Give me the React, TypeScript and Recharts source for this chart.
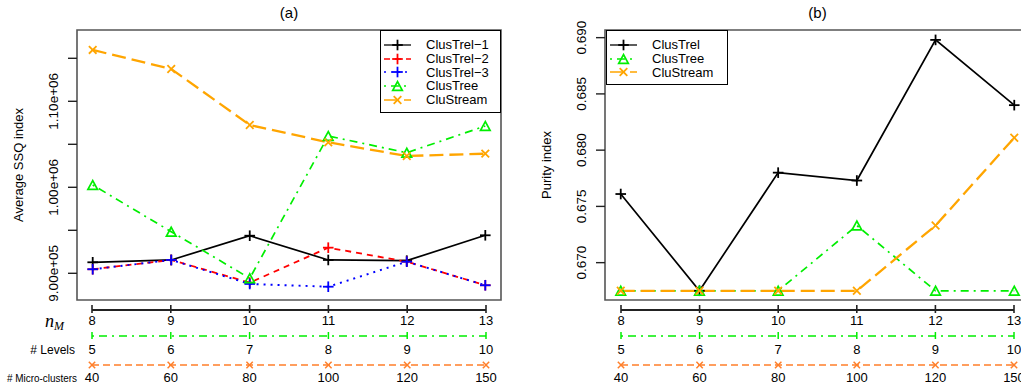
import React from 'react';
import { LineChart, Line, XAxis, YAxis, Legend, ReferenceArea } from 'recharts';

const FONT = "'Liberation Sans', Arial, Helvetica, sans-serif";

// ---- categories & tick labels ----
const nM = [8, 9, 10, 11, 12, 13];
const levels = ['5', '6', '7', '8', '9', '10'];
const microClusters = ['40', '60', '80', '100', '120', '150'];

const ssqTicks = [900000, 950000, 1000000, 1050000, 1100000, 1150000];
const ssqTickLabels = ['9.00e+05', '', '1.00e+06', '', '1.10e+06', ''];
const purityTicks = [0.67, 0.675, 0.68, 0.685, 0.69];
const purityTickLabels = ['0.670', '0.675', '0.680', '0.685', '0.690'];

// ---- (a) Average SSQ index ----
const ssqClusTrel1 = [912800, 915500, 943700, 915500, 914700, 944200];
const ssqClusTrel2 = [904700, 915500, 889100, 929800, 913500, 886100];
const ssqClusTrel3 = [904700, 915500, 887600, 884400, 913500, 886100];
const ssqClusTree = [1002700, 948400, 894200, 1059700, 1040200, 1071300];
const ssqCluStream = [1159700, 1137600, 1072400, 1052300, 1036400, 1039100];

// ---- (b) Purity index ----
const purityClusTrel = [0.6761, 0.6675, 0.678, 0.6773, 0.6898, 0.684];
const purityClusTree = [0.6675, 0.6675, 0.6675, 0.6733, 0.6675, 0.6675];
const purityCluStream = [0.6675, 0.6675, 0.6675, 0.6675, 0.6733, 0.6811];

// axis ranges (R adds 4% padding)
const xDomain = [7.8, 13.2];
const ssqDomain = [868950, 1182910];
const purityDomain = [0.66668, 0.69068];

const ssqRows = nM.map((n, i) => ({
  n,
  c1: ssqClusTrel1[i],
  c2: ssqClusTrel2[i],
  c3: ssqClusTrel3[i],
  tree: ssqClusTree[i],
  stream: ssqCluStream[i],
}));
const purityRows = nM.map((n, i) => ({
  n,
  trel: purityClusTrel[i],
  tree: purityClusTree[i],
  stream: purityCluStream[i],
}));

type Series = { key: string; name: string; color: string; dash?: string; width: number; marker: string };

const ssqSeries: Series[] = [
  { key: 'c1', name: 'ClusTrel\u22121', color: '#000000', width: 1.7, marker: 'plus' },
  { key: 'c2', name: 'ClusTrel\u22122', color: '#FF0000', dash: '6 5', width: 1.8, marker: 'plus' },
  { key: 'c3', name: 'ClusTrel\u22123', color: '#0000FF', dash: '2 5', width: 1.9, marker: 'plus' },
  { key: 'tree', name: 'ClusTree', color: '#00EE00', dash: '2 5 8 5', width: 1.7, marker: 'triangle' },
  { key: 'stream', name: 'CluStream', color: '#FFA500', dash: '14 6', width: 2.3, marker: 'cross' },
];
const puritySeries: Series[] = [
  { key: 'trel', name: 'ClusTrel', color: '#000000', width: 1.7, marker: 'plus' },
  { key: 'tree', name: 'ClusTree', color: '#00EE00', dash: '2 5 8 5', width: 1.7, marker: 'triangle' },
  { key: 'stream', name: 'CluStream', color: '#FFA500', dash: '14 6', width: 2.3, marker: 'cross' },
];

function Marker({ cx, cy, type, color }: any) {
  if (cx == null || cy == null) return null;
  if (type === 'plus') {
    const r = 5.3;
    return (
      <g>
        <line x1={cx - r} y1={cy} x2={cx + r} y2={cy} stroke={color} strokeWidth={1.8} />
        <line x1={cx} y1={cy - r} x2={cx} y2={cy + r} stroke={color} strokeWidth={1.8} />
      </g>
    );
  }
  if (type === 'cross') {
    const r = 3.8;
    return (
      <g>
        <line x1={cx - r} y1={cy - r} x2={cx + r} y2={cy + r} stroke={color} strokeWidth={1.8} />
        <line x1={cx - r} y1={cy + r} x2={cx + r} y2={cy - r} stroke={color} strokeWidth={1.8} />
      </g>
    );
  }
  const h = 4.4;
  const w = 4.8;
  return (
    <polygon
      points={`${cx},${cy - h} ${cx - w},${cy + h} ${cx + w},${cy + h}`}
      fill="none"
      stroke={color}
      strokeWidth={1.7}
    />
  );
}

function LegendBox({ items }: { items: Series[] }) {
  return (
    <div
      style={{
        border: '1px solid #000',
        background: '#fff',
        padding: '7px 0 5px 2px',
        fontFamily: FONT,
        fontSize: 13,
        color: '#000',
        boxSizing: 'border-box',
      }}
    >
      {items.map((s) => (
        <div key={s.key} style={{ display: 'flex', alignItems: 'center', height: 13.75, whiteSpace: 'nowrap' }}>
          <svg width={29} height={14} style={{ flex: 'none', overflow: 'visible' }}>
            <line x1={1} y1={7} x2={28} y2={7} stroke={s.color} strokeWidth={s.width * 0.75} strokeDasharray={s.dash} />
            <Marker cx={14.5} cy={7} type={s.marker} color={s.color} />
          </svg>
          <span style={{ marginLeft: 14, lineHeight: '13.75px' }}>{s.name}</span>
        </div>
      ))}
    </div>
  );
}

const makeYTick = (labels: string[]) => (props: any) => {
  const { x, y, index } = props;
  const lab = labels[index] ?? '';
  if (!lab) return <g />;
  const bx = x - 10;
  return (
    <text
      x={bx}
      y={y}
      transform={`rotate(-90 ${bx} ${y})`}
      textAnchor="middle"
      fontSize={13.5}
      fontFamily={FONT}
      fill="#000"
    >
      {lab}
    </text>
  );
};

const yLabel = (text: string, dx: number) => (props: any) => {
  const vb = props.viewBox || {};
  const x = (vb.x ?? 0) + dx;
  const y = (vb.y ?? 0) + (vb.height ?? 0) / 2;
  return (
    <text x={x} y={y} transform={`rotate(-90 ${x} ${y})`} textAnchor="middle" fontSize={13} fontFamily={FONT} fill="#000">
      {text}
    </text>
  );
};

const NTick = (props: any) => {
  const { x, y, payload } = props;
  const i = nM.indexOf(payload.value);
  return (
    <g>
      <line x1={x} y1={y - 5} x2={x} y2={y + 3} stroke="#222" strokeWidth={1.6} />
      <text x={x} y={y + 15} textAnchor="middle" fontSize={13} fontFamily={FONT} fill="#000">
        {i >= 0 ? String(nM[i]) : ''}
      </text>
    </g>
  );
};
const LevelTick = (props: any) => {
  const { x, y, payload } = props;
  const i = nM.indexOf(payload.value);
  return (
    <g>
      <line x1={x} y1={y - 4} x2={x} y2={y + 3} stroke="#00EE00" strokeWidth={1.5} />
      <text x={x} y={y + 17.5} textAnchor="middle" fontSize={13} fontFamily={FONT} fill="#000">
        {i >= 0 ? levels[i] : ''}
      </text>
    </g>
  );
};
const MicroTick = (props: any) => {
  const { x, y, payload } = props;
  const i = nM.indexOf(payload.value);
  const r = 3.2;
  return (
    <g>
      <line x1={x - r} y1={y - r} x2={x + r} y2={y + r} stroke="#FF7F2A" strokeWidth={1.5} />
      <line x1={x - r} y1={y + r} x2={x + r} y2={y - r} stroke="#FF7F2A" strokeWidth={1.5} />
      <text x={x} y={y + 16.5} textAnchor="middle" fontSize={13} fontFamily={FONT} fill="#000">
        {i >= 0 ? microClusters[i] : ''}
      </text>
    </g>
  );
};

const nMLabel = (props: any) => {
  const vb = props.viewBox || {};
  return (
    <text x={vb.x - 47} y={vb.y + 17} fontFamily="'Liberation Serif', 'Times New Roman', serif" fontStyle="italic" fill="#000">
      <tspan fontSize={18}>n</tspan>
      <tspan fontSize={12} dy={3}>M</tspan>
    </text>
  );
};
const levelsLabel = (props: any) => {
  const vb = props.viewBox || {};
  return (
    <text x={vb.x - 17} y={vb.y + 17.5} textAnchor="end" fontSize={12} fontFamily={FONT} fill="#000">
      # Levels
    </text>
  );
};
const microLabel = (props: any) => {
  const vb = props.viewBox || {};
  return (
    <text
      x={vb.x - 85}
      y={vb.y + 16.5}
      fontSize={11.5}
      fontFamily={FONT}
      textLength={70}
      lengthAdjust="spacingAndGlyphs"
      fill="#000"
    >
      # Micro-clusters
    </text>
  );
};

function renderLines(series: Series[]) {
  return series.map((s) => (
    <Line
      key={s.key}
      type="linear"
      dataKey={s.key}
      name={s.name}
      stroke={s.color}
      strokeWidth={s.width}
      strokeDasharray={s.dash}
      isAnimationActive={false}
      activeDot={false}
      dot={(p: any) => <Marker key={`${s.key}-${p.index}`} cx={p.cx} cy={p.cy} type={s.marker} color={s.color} />}
    />
  ));
}

function BottomAxes({ width, left, right, showLabels }: { width: number; left: number; right: number; showLabels: boolean }) {
  return (
    <LineChart width={width} height={386} data={ssqRows} margin={{ top: 300, right, bottom: 0, left }}>
      <YAxis hide domain={[0, 1]} />
      <XAxis
        xAxisId="a_nM"
        dataKey="n"
        type="number"
        domain={[8, 13]}
        ticks={nM}
        interval={0}
        allowDataOverflow
        height={26}
        axisLine={{ stroke: '#222', strokeWidth: 1.8 }}
        tickLine={false}
        tickSize={0}
        tickMargin={0}
        tick={<NTick />}
        label={showLabels ? { content: nMLabel } : undefined}
      />
      <XAxis
        xAxisId="b_levels"
        dataKey="n"
        type="number"
        domain={[8, 13]}
        ticks={nM}
        interval={0}
        allowDataOverflow
        height={29}
        axisLine={{ stroke: '#00EE00', strokeWidth: 1.5, strokeDasharray: '2 5 8 5' }}
        tickLine={false}
        tickSize={0}
        tickMargin={0}
        tick={<LevelTick />}
        label={showLabels ? { content: levelsLabel } : undefined}
      />
      <XAxis
        xAxisId="c_micro"
        dataKey="n"
        type="number"
        domain={[8, 13]}
        ticks={nM}
        interval={0}
        allowDataOverflow
        height={21}
        axisLine={{ stroke: '#FF7F2A', strokeWidth: 1.5, strokeDasharray: '7 4' }}
        tickLine={false}
        tickSize={0}
        tickMargin={0}
        tick={<MicroTick />}
        label={showLabels ? { content: microLabel } : undefined}
      />
    </LineChart>
  );
}

export default function App() {
  const abs = (left: number, width: number): React.CSSProperties => ({ position: 'absolute', left, top: 0, width, height: 386 });
  return (
    <div style={{ position: 'absolute', left: 0, top: 0, width: 1021, height: 386, overflow: 'hidden', background: '#fff', fontFamily: FONT }}>
      {/* panel (a) */}
      <div style={abs(0, 510)}>
        <LineChart width={510} height={386} data={ssqRows} margin={{ top: 30, right: 9, bottom: 86, left: 0 }}>
          <XAxis dataKey="n" type="number" domain={xDomain} hide allowDataOverflow />
          <YAxis
            type="number"
            domain={ssqDomain}
            ticks={ssqTicks}
            interval={0}
            allowDataOverflow
            width={77}
            axisLine={false}
            tickLine={{ stroke: '#222', strokeWidth: 1.4 }}
            tickSize={9}
            tickMargin={0}
            tick={makeYTick(ssqTickLabels)}
            label={{ content: yLabel('Average SSQ index', 23) }}
          />
          <ReferenceArea
            x1={xDomain[0]}
            x2={xDomain[1]}
            y1={ssqDomain[0]}
            y2={ssqDomain[1]}
            fill="none"
            stroke="#555"
            strokeWidth={1.6}
            ifOverflow="visible"
          />
          {renderLines(ssqSeries)}
          <Legend
            layout="vertical"
            align="center"
            verticalAlign="middle"
            content={() => <LegendBox items={ssqSeries} />}
            wrapperStyle={{ left: 380, top: 30, width: 121, height: 'auto' }}
          />
        </LineChart>
      </div>
      <div style={abs(0, 510)}>
        <BottomAxes width={510} left={92} right={24} showLabels />
      </div>
      <div style={{ position: 'absolute', left: 77, top: 4, width: 424, textAlign: 'center', fontSize: 15, lineHeight: '17px', color: '#000' }}>(a)</div>

      {/* panel (b) */}
      <div style={abs(520, 519)}>
        <LineChart width={519} height={386} data={purityRows} margin={{ top: 30, right: 9, bottom: 86, left: 0 }}>
          <XAxis dataKey="n" type="number" domain={xDomain} hide allowDataOverflow />
          <YAxis
            type="number"
            domain={purityDomain}
            ticks={purityTicks}
            interval={0}
            allowDataOverflow
            width={85}
            axisLine={false}
            tickLine={{ stroke: '#222', strokeWidth: 1.4 }}
            tickSize={9}
            tickMargin={0}
            tick={makeYTick(purityTickLabels)}
            label={{ content: yLabel('Purity index', 31) }}
          />
          <ReferenceArea
            x1={xDomain[0]}
            x2={xDomain[1]}
            y1={purityDomain[0]}
            y2={purityDomain[1]}
            fill="none"
            stroke="#555"
            strokeWidth={1.6}
            ifOverflow="visible"
          />
          {renderLines(puritySeries)}
          <Legend
            layout="vertical"
            align="center"
            verticalAlign="middle"
            content={() => <LegendBox items={puritySeries} />}
            wrapperStyle={{ left: 86, top: 30, width: 122, height: 'auto' }}
          />
        </LineChart>
      </div>
      <div style={abs(520, 519)}>
        <BottomAxes width={519} left={101} right={25} showLabels={false} />
      </div>
      <div style={{ position: 'absolute', left: 605, top: 4, width: 425, textAlign: 'center', fontSize: 15, lineHeight: '17px', color: '#000' }}>(b)</div>
    </div>
  );
}
